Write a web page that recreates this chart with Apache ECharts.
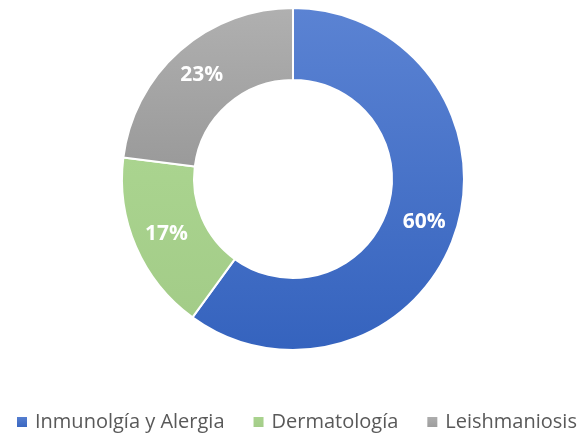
<!DOCTYPE html>
<html>
<head>
<meta charset="utf-8">
<script src="https://cdn.jsdelivr.net/npm/echarts@6/dist/echarts.min.js"></script>
<style>
  html, body { margin: 0; padding: 0; background: #fff; }
  #main { width: 583px; height: 435px; }
</style>
</head>
<body>
<div id="main"></div>
<script>
const categories = ["Inmunolgía y Alergia", "Dermatología", "Leishmaniosis"];
const values = [60, 17, 23];
const percentLabels = ["60%", "17%", "23%"];

// top/bottom gradient colours per slice
const sliceColors = [
  ["#5b83d3", "#3563be"],
  ["#aad48f", "#a3cc88"],
  ["#b0b0b0", "#9a9a9a"],
];

function grad(c) {
  return new echarts.graphic.LinearGradient(0, 0, 0, 1, [
    { offset: 0, color: c[0] },
    { offset: 1, color: c[1] },
  ]);
}

let chartDom = document.getElementById("main");
let myChart = echarts.init(chartDom);

let option = {
  animation: false,
  legend: {
    top: 407,
    left: 10,
    itemWidth: 12,
    itemHeight: 12,
    itemGap: 27,
    icon: "rect",
    textStyle: {
      color: "#595959",
      fontSize: 20,
      fontFamily: "Open Sans",
      padding: [0, 0, 0, 2],
    },
    data: categories,
  },
  series: [
    {
      type: "pie",
      center: [293, 179],
      radius: [99, 171],
      startAngle: 90,
      clockwise: true,
      itemStyle: {
        borderColor: "#fff",
        borderWidth: 2,
      },
      label: {
        show: true,
        position: "inside",
        color: "#fff",
        fontSize: 21,
        fontWeight: "bold",
        fontFamily: "Open Sans",
        formatter: function (p) {
          return percentLabels[p.dataIndex];
        },
      },
      labelLine: { show: false },
      data: categories.map(function (name, i) {
        return {
          name: name,
          value: values[i],
          itemStyle: { color: grad(sliceColors[i]) },
        };
      }),
    },
  ],
};
option && myChart.setOption(option);
</script>
</body>
</html>
